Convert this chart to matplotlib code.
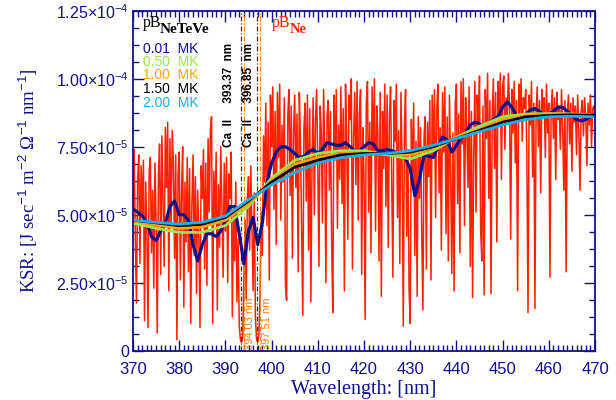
import numpy as np
import matplotlib.pyplot as plt
from matplotlib.ticker import MultipleLocator, FuncFormatter

plt.rcParams['mathtext.fontset'] = 'custom'
plt.rcParams['mathtext.rm'] = 'Liberation Sans'
plt.rcParams['mathtext.bf'] = 'Liberation Serif:bold'

NAVY = '#10108a'
ESCALA = 1e-5    # os valores abaixo estao em unidades de 1e-5

# Espectro observado (pB_Ne), passo de 0.25 nm entre 370 e 470 nm
lambda_esp = np.arange(370, 470.01, 0.25)
pB_Ne = [
    5.2, 7.4, 4.1, 1.75, 6.3, 7.2, 3.2, 6.8, 5.0, 7.0, 1.1, 6.2, 4.4, 0.85, 6.6, 7.1, 3.6, 5.9, 2.3, 6.9,
    4.8, 0.65, 6.4, 7.6, 2.8, 7.9, 5.5, 3.1, 8.2, 6.0, 8.4, 2.2, 7.8, 4.6, 8.1, 6.9, 3.4, 7.2, 0.4, 6.5,
    7.3, 2.6, 5.8, 7.5, 1.6, 6.2, 4.0, 7.1, 2.9, 6.7, 1.0, 5.4, 7.2, 3.5, 6.4, 2.1, 5.9, 4.3, 0.85, 6.8,
    5.6, 7.4, 3.0, 6.9, 2.4, 7.8, 5.1, 8.1, 8.6, 1.0, 6.6, 4.7, 7.3, 1.5, 6.1, 3.8, 7.5, 5.3, 2.7, 6.9,
    4.4, 7.1, 2.5, 6.5, 5.6, 7.3, 1.25, 5.0, 3.3, 6.2, 1.8, 4.1, 0.9, 0.4, 0.3, 0.5, 2.6, 4.8, 1.9, 5.6,
    6.4, 3.7, 6.8, 4.5, 2.2, 5.8, 1.2, 0.4, 0.3, 0.6, 2.0, 5.1, 3.5, 7.9, 6.2, 9.1, 4.6, 8.4, 2.6, 9.4,
    7.5, 9.7, 5.2, 8.8, 3.9, 9.5, 7.1, 9.8, 4.8, 8.3, 6.2, 9.3, 2.4, 1.85, 8.6, 9.6, 5.7, 9.0, 3.4, 8.1,
    9.4, 6.0, 8.7, 2.9, 9.5, 7.6, 4.4, 1.3, 8.2, 9.1, 5.5, 9.4, 3.7, 8.9, 1.8, 7.0, 9.3, 5.0, 8.5, 9.6,
    6.8, 3.1, 9.0, 8.1, 4.7, 9.6, 7.4, 2.5, 8.6, 9.2, 5.9, 8.8, 3.9, 1.4, 9.4, 7.0, 9.6, 4.5, 8.3, 6.3,
    9.7, 5.4, 8.9, 2.2, 9.8, 7.7, 4.1, 9.4, 8.5, 10.0, 3.0, 7.9, 9.5, 6.1, 9.9, 4.8, 8.7, 9.6, 2.8, 8.2,
    6.5, 1.15, 9.1, 9.9, 5.1, 8.4, 3.6, 9.7, 7.2, 10.0, 4.4, 9.0, 8.0, 3.3, 9.5, 2.0, 8.8, 6.7, 9.8, 5.3,
    9.4, 3.8, 8.6, 9.7, 6.2, 2.7, 9.2, 7.7, 9.8, 4.9, 8.1, 3.2, 9.5, 6.8, 0.9, 8.3, 9.6, 4.2, 7.4, 2.3,
    1.0, 8.5, 6.1, 9.1, 3.5, 7.7, 2.0, 8.6, 5.6, 8.2, 4.3, 1.5, 7.9, 8.6, 3.0, 8.4, 6.4, 9.2, 2.6, 9.4,
    7.1, 9.6, 4.9, 8.9, 9.8, 5.8, 8.2, 3.7, 9.5, 7.3, 9.7, 4.3, 8.6, 3.3, 9.4, 6.6, 2.85, 8.0, 2.2, 9.1,
    9.8, 5.4, 8.7, 3.6, 9.9, 7.6, 10.0, 4.6, 9.3, 8.1, 6.0, 9.7, 3.1, 8.8, 1.95, 7.2, 9.9, 5.1, 9.4, 8.3,
    10.1, 4.4, 3.3, 9.0, 2.05, 9.6, 7.8, 10.2, 5.6, 9.2, 2.1, 8.6, 10.0, 6.7, 9.5, 4.0, 9.9, 8.4, 10.2, 6.3,
    9.7, 10.1, 7.4, 9.3, 8.5, 10.2, 9.0, 4.1, 9.6, 8.0, 9.9, 6.9, 9.2, 2.2, 9.8, 8.7, 10.0, 7.7, 9.3, 8.9,
    9.6, 7.2, 1.4, 9.4, 8.3, 9.9, 6.4, 9.1, 1.55, 8.8, 9.7, 7.5, 9.2, 5.8, 9.6, 8.6, 9.3, 7.1, 9.8, 8.0,
    9.1, 2.7, 8.9, 9.6, 7.8, 9.3, 6.3, 9.5, 8.5, 9.0, 7.4, 9.6, 8.2, 5.9, 9.2, 2.9, 8.7, 9.4, 7.6, 9.1,
    6.6, 9.3, 8.4, 9.0, 7.2, 9.4, 8.1, 5.9, 8.8, 9.2, 7.9, 9.3, 8.6, 6.8, 9.1, 8.3, 9.4, 7.5, 8.9, 9.0,
    8.6,
]

# Modelo pB_NeTeVe para 0.01 MK, passo de 1 nm
lambda_001 = np.arange(370, 471, 1)
pB_001 = [
    5.2, 5.1, 4.95, 4.7, 4.2, 4.05, 4.4, 4.7, 5.3, 5.5,
    5.0, 5.0, 4.8, 3.9, 3.3, 3.9, 4.3, 4.3, 4.2, 4.4,
    4.8, 5.3, 5.3, 4.3, 3.2, 4.4, 4.9, 3.9, 4.7, 6.2,
    6.9, 7.3, 7.5, 7.5, 7.4, 7.25, 7.1, 7.15, 7.3, 7.4,
    7.25, 7.4, 7.65, 7.6, 7.55, 7.55, 7.65, 7.5, 7.35, 7.35,
    7.5, 7.65, 7.6, 7.35, 7.35, 7.4, 7.35, 7.3, 7.2, 7.05,
    6.7, 5.7, 6.3, 7.2, 7.15, 7.1, 7.5, 7.85, 7.75, 7.3,
    7.55, 7.8, 8.0, 8.3, 8.4, 8.35, 8.2, 8.35, 8.5, 8.6,
    8.95, 9.15, 8.95, 8.65, 8.6, 8.7, 8.85, 8.9, 8.8, 8.65,
    8.7, 8.8, 8.95, 8.95, 8.8, 8.65, 8.5, 8.45, 8.5, 8.6,
    8.65,
]

# Modelos para 0.50, 1.00, 1.50 e 2.00 MK, passo de 5 nm
lambda_mod = np.arange(370, 471, 5)
pB_050 = [4.7, 4.5, 4.35, 4.35, 4.6, 5.3, 6.35, 7.0, 7.25, 7.35, 7.35,
          7.2, 7.05, 7.35, 7.85, 8.25, 8.6, 8.7, 8.72, 8.7, 8.65]
pB_100 = [4.75, 4.62, 4.5, 4.55, 4.8, 5.4, 6.25, 6.85, 7.1, 7.25, 7.28,
          7.22, 7.2, 7.45, 7.82, 8.15, 8.5, 8.65, 8.7, 8.7, 8.65]
pB_150 = [4.8, 4.7, 4.6, 4.65, 4.9, 5.5, 6.2, 6.75, 7.0, 7.2, 7.25,
          7.25, 7.3, 7.5, 7.8, 8.1, 8.4, 8.6, 8.65, 8.67, 8.65]
pB_200 = [4.8, 4.72, 4.65, 4.72, 4.95, 5.55, 6.1, 6.55, 6.9, 7.1, 7.2,
          7.25, 7.35, 7.55, 7.8, 8.05, 8.3, 8.5, 8.6, 8.62, 8.6]

# Linhas do Ca II (nm)
ca_linhas = [393.37, 396.85]
ca_linhas_desl = [394.03, 397.51]

rotulos_T = ['0.01  MK', '0.50  MK', '1.00  MK', '1.50  MK', '2.00  MK']
cores_T = ['#10108a', '#9be84a', '#ffa500', '#000000', '#18b0ee']


def formata_y(v, pos):
    if v == 0:
        return '0'
    expo = int(np.floor(np.log10(abs(v)) + 1e-9))
    mant = v / 10**expo
    return '%.2f×10$^{%d}$' % (mant, expo)


fig = plt.figure(figsize=(6.16, 4.0), dpi=100)
ax = fig.add_axes([133/616, 49.3/400, 462/616, 340/400])

ax.plot(lambda_esp, np.array(pB_Ne)*ESCALA, color='#ff2000', lw=1.1)

for wl in ca_linhas:
    ax.axvline(wl, color='#333333', lw=0.9, ls=(0, (4, 1.5, 1, 1.5)))
for wl in ca_linhas_desl:
    ax.axvline(wl, color='#ff7f10', lw=0.9, ls=(0, (4, 1.5, 1, 1.5)))

ax.plot(lambda_001, np.array(pB_001)*ESCALA, color=cores_T[0], lw=2.3)
ax.plot(lambda_mod, np.array(pB_050)*ESCALA, color=cores_T[1], lw=2.0)
ax.plot(lambda_mod, np.array(pB_100)*ESCALA, color=cores_T[2], lw=2.0)
ax.plot(lambda_mod, np.array(pB_150)*ESCALA, color=cores_T[3], lw=2.0)
ax.plot(lambda_mod, np.array(pB_200)*ESCALA, color=cores_T[4], lw=2.0)

ax.set_xlim(370, 470)
ax.set_ylim(0, 1.25e-4)
ax.xaxis.set_major_locator(MultipleLocator(10))
ax.xaxis.set_minor_locator(MultipleLocator(1))
ax.yaxis.set_major_locator(MultipleLocator(2.5e-5))
ax.yaxis.set_minor_locator(MultipleLocator(2.5e-5/4))
ax.yaxis.set_major_formatter(FuncFormatter(formata_y))

for s in ax.spines.values():
    s.set_color(NAVY)
    s.set_linewidth(1.3)
ax.tick_params(which='both', direction='in', top=True, right=True, color=NAVY, width=1.0)
ax.tick_params(which='major', length=8)
ax.tick_params(which='minor', length=4)
ax.tick_params(axis='x', labelsize=12, labelcolor=NAVY, pad=8)
ax.tick_params(axis='y', labelsize=11.5, labelcolor=NAVY, pad=3)
for lab in ax.get_xticklabels() + ax.get_yticklabels():
    lab.set_family('Liberation Sans')

ax.set_xlabel('Wavelength: [nm]', family='Liberation Serif', fontsize=14.5, color=NAVY)
ax.set_ylabel('KSR: [J sec$^{-1}$ m$^{-2}$ Ω$^{-1}$ nm$^{-1}$]', family='Liberation Serif',
              fontsize=13.5, color=NAVY)
ax.xaxis.set_label_coords(0.5, -0.087)
ax.yaxis.set_label_coords(-0.201, 0.5)

# legenda escrita a mao, como no IDL
ax.text(0.0216, 0.952, 'pB', transform=ax.transAxes, family='Liberation Serif',
        fontsize=11.5, color='black', va='baseline')
ax.text(0.0584, 0.934, 'NeTeVe', transform=ax.transAxes, family='Liberation Serif',
        weight='bold', fontsize=11, color='black', va='baseline')
y_leg = [0.8765, 0.838, 0.798, 0.757, 0.718]
for rot, cor, yl in zip(rotulos_T, cores_T, y_leg):
    ax.text(0.0216, yl, rot, transform=ax.transAxes, family='Liberation Sans', fontsize=10,
            color=cor, va='baseline')
ax.text(0.301, 0.952, 'pB', transform=ax.transAxes, family='Liberation Serif',
        fontsize=11.5, color='#ff2000', va='baseline')
ax.text(0.339, 0.934, 'Ne', transform=ax.transAxes, family='Liberation Serif',
        weight='bold', fontsize=10.5, color='#ff2000', va='baseline')

# rotulos das linhas do Ca II
ax.text(390.8, 0.599*1.25e-4, 'Ca  II     %.2f  nm' % ca_linhas[0], rotation=90, ha='center',
        va='bottom', family='Liberation Sans', weight='bold', fontsize=8.5, color='black')
ax.text(395.1, 0.599*1.25e-4, 'Ca  II     %.2f  nm' % ca_linhas[1], rotation=90, ha='center',
        va='bottom', family='Liberation Sans', weight='bold', fontsize=8.5, color='black')
ax.text(395.3, 0.002*1.25e-4, '%.2f nm' % ca_linhas_desl[0], rotation=90, ha='center',
        va='bottom', family='Liberation Sans', fontsize=8, color='#ff7f10')
ax.text(398.9, 0.002*1.25e-4, '%.2f nm' % ca_linhas_desl[1], rotation=90, ha='center',
        va='bottom', family='Liberation Sans', fontsize=8, color='#ff7f10')

fig.savefig('out.png', dpi=100)
